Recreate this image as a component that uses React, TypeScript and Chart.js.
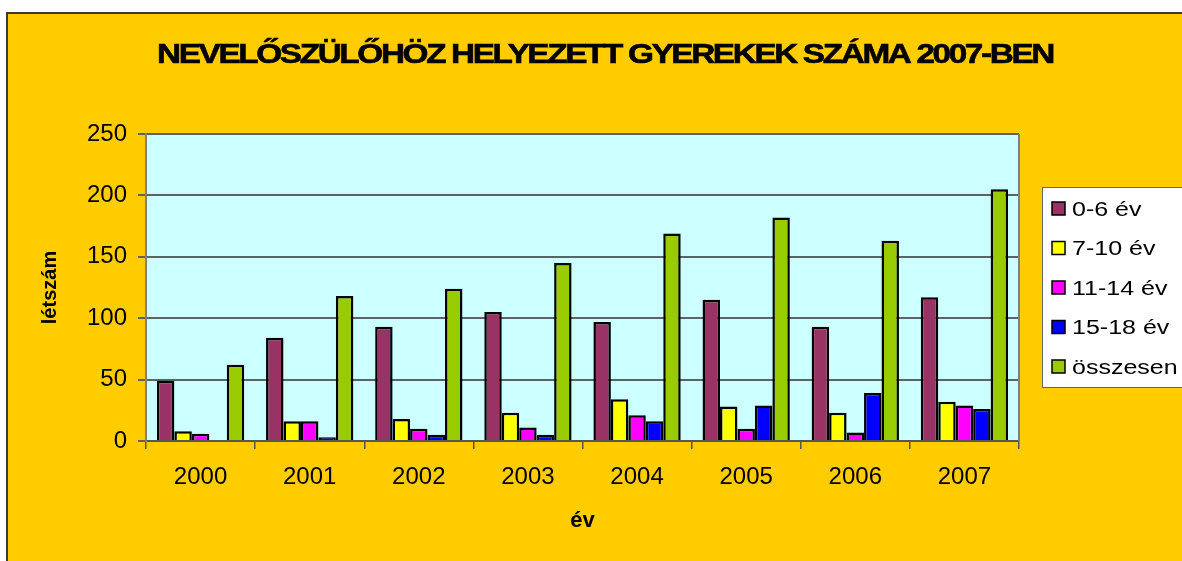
import React, { useEffect, useRef } from 'react';
import { Chart, registerables } from 'chart.js';

Chart.register(...registerables);

const years = ['2000', '2001', '2002', '2003', '2004', '2005', '2006', '2007'];
const age0to6 = [49, 84, 93, 105, 97, 115, 93, 117];
const age7to10 = [8, 16, 18, 23, 34, 28, 23, 32];
const age11to14 = [6, 16, 10, 11, 21, 10, 7, 29];
const age15to18 = [null, 3, 5, 5, 16, 29, 39, 26];
const totals = [62, 118, 124, 145, 169, 182, 163, 205];
const seriesLabels = ['0-6 év', '7-10 év', '11-14 év', '15-18 év', 'összesen'];
const seriesColors = ['#993366', '#FFFF00', '#FF00FF', '#0000FF', '#99CC00'];
const yTickValues = [0, 50, 100, 150, 200, 250];
const titleText = 'NEVELŐSZÜLŐHÖZ HELYEZETT GYEREKEK SZÁMA 2007-BEN';
const xTitle = 'év';
const yTitle = 'létszám';

const FONT = '"Liberation Sans", Arial, Helvetica, sans-serif';

export default function App() {
  const ref = useRef<HTMLCanvasElement | null>(null);

  useEffect(() => {
    const canvas = ref.current;
    if (!canvas) return;

    const decor = {
      id: 'decor',
      beforeDraw(chart: any) {
        const { ctx, chartArea: a } = chart;
        ctx.save();
        ctx.fillStyle = '#CCFFFF';
        ctx.fillRect(a.left, a.top, a.right - a.left, a.bottom - a.top);
        ctx.restore();
      },
      afterDraw(chart: any) {
        const { ctx, chartArea: a } = chart;
        // right border of plot area
        ctx.save();
        ctx.strokeStyle = '#808080';
        ctx.lineWidth = 2;
        ctx.beginPath();
        ctx.moveTo(a.right, a.top);
        ctx.lineTo(a.right, a.bottom);
        ctx.stroke();
        ctx.restore();

        // title: heavy, tightly packed, horizontally stretched
        ctx.save();
        ctx.font = `bold 28px ${FONT}`;
        ctx.fillStyle = '#000';
        (ctx as any).letterSpacing = '-2px';
        const w0 = ctx.measureText(titleText).width;
        const targetW = 896;
        const sx = targetW / w0;
        const left = 149;
        ctx.translate(left, 49);
        ctx.scale(sx, 1);
        ctx.textAlign = 'left';
        ctx.textBaseline = 'alphabetic';
        ctx.lineWidth = 0.6;
        ctx.strokeStyle = '#000';
        ctx.fillText(titleText, 0, 0);
        ctx.strokeText(titleText, 0, 0);
        ctx.restore();

        // legend
        const lx = 1034;
        const ly = 173;
        const lh = 200;
        ctx.save();
        ctx.fillStyle = '#FFFFFF';
        ctx.fillRect(lx, ly, chart.width - lx + 10, lh);
        ctx.strokeStyle = '#666666';
        ctx.lineWidth = 1;
        ctx.strokeRect(lx + 0.5, ly + 0.5, chart.width - lx + 10, lh);
        chart.data.datasets.forEach((ds: any, i: number) => {
          const cy = ly + 22 + i * 39.5;
          ctx.fillStyle = ds.backgroundColor;
          ctx.fillRect(lx + 10, cy - 7, 13, 13);
          ctx.strokeStyle = '#000';
          ctx.lineWidth = 1.5;
          ctx.strokeRect(lx + 10, cy - 7, 13, 13);
          ctx.save();
          ctx.font = `20px ${FONT}`;
          ctx.textBaseline = 'middle';
          ctx.textAlign = 'left';
          ctx.fillStyle = '#000';
          ctx.translate(lx + 30, cy + 1);
          ctx.scale(1.25, 1);
          ctx.fillText(ds.label, 0, 0);
          ctx.restore();
        });
        ctx.restore();
      },
    };

    const mk = (i: number, data: (number | null)[]) => ({
      label: seriesLabels[i],
      data,
      backgroundColor: seriesColors[i],
      borderColor: '#000000',
      borderWidth: 2.5,
      borderSkipped: 'bottom',
      categoryPercentage: 0.8,
      barPercentage: 1.0,
    });

    const chart = new Chart(canvas, {
      type: 'bar',
      data: {
        labels: years,
        datasets: [
          mk(0, age0to6),
          mk(1, age7to10),
          mk(2, age11to14),
          mk(3, age15to18),
          mk(4, totals),
        ] as any,
      },
      options: {
        animation: false,
        responsive: false,
        maintainAspectRatio: false,
        devicePixelRatio: 1,
        layout: { padding: { top: 120, left: 0, right: 179, bottom: 0 } },
        plugins: {
          legend: { display: false },
          title: { display: false },
          tooltip: { enabled: false },
        },
        scales: {
          x: {
            grid: {
              display: true,
              offset: true,
              drawOnChartArea: false,
              drawTicks: true,
              tickLength: 8,
              color: '#555555',
              lineWidth: 1.5,
            },
            border: { display: true, color: '#555555', width: 2 },
            ticks: {
              color: '#000',
              font: { family: FONT, size: 24 },
              padding: 14,
              maxRotation: 0,
            },
            title: {
              display: true,
              text: xTitle,
              color: '#000',
              font: { family: FONT, size: 22, weight: 'bold' },
              padding: { top: 0, bottom: 27 },
            },
            afterFit(scale: any) {
              scale.height = 120;
            },
          },
          y: {
            min: 0,
            max: 250,
            afterBuildTicks(scale: any) {
              scale.ticks = yTickValues.map((v) => ({ value: v }));
            },
            grid: {
              color: '#5a6464',
              lineWidth: 2,
              drawTicks: true,
              tickLength: 8,
            },
            border: { display: true, color: '#808080', width: 2 },
            ticks: {
              color: '#000',
              font: { family: FONT, size: 24 },
              padding: 11,
            },
            title: {
              display: true,
              text: yTitle,
              color: '#000',
              font: { family: FONT, size: 20, weight: 'bold' },
              padding: { top: 30, bottom: 0 },
            },
            afterFit(scale: any) {
              scale.width = 138;
            },
          },
        },
      },
      plugins: [decor],
    } as any);

    return () => {
      chart.destroy();
    };
  }, []);

  return (
    <div
      style={{
        position: 'fixed',
        left: 0,
        top: 0,
        width: 1182,
        height: 561,
        overflow: 'hidden',
        background: '#FFFFFF',
      }}
    >
      <div
        style={{
          position: 'absolute',
          left: 6,
          top: 12,
          width: 1200,
          height: 570,
          background: '#FFCC00',
          border: '2px solid #3a3a3a',
          boxSizing: 'border-box',
        }}
      >
        <canvas
          ref={ref}
          width={1190}
          height={547}
          style={{ display: 'block', width: 1190, height: 547 }}
        />
      </div>
    </div>
  );
}
